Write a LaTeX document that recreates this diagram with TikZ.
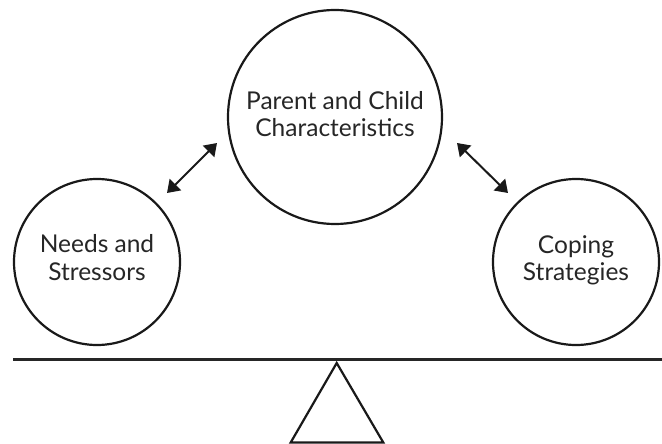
\documentclass[tikz,border=0pt]{standalone}
\usepackage{fontspec}
\setmainfont{Lato}
\usetikzlibrary{arrows.meta}
\begin{document}
\begin{tikzpicture}[x=1pt,y=-1pt,
  factor/.style={circle,draw=black!90,line width=2.2pt,inner sep=0pt},
  caption/.style={align=center,inner sep=0pt,text=black!85,
    font=\fontsize{24.5}{27.4}\selectfont},
  link/.style={line width=2pt,draw=black!90,
    {Triangle[length=12pt,width=16pt]}-{Triangle[length=12pt,width=16pt]}}]
  \useasboundingbox (0,0) rectangle (662,444);
  % the three factors
  \node[factor,minimum size=214pt] (pc) at (335,117) {};
  \node[factor,minimum size=166pt] (ns) at (97,262) {};
  \node[factor,minimum size=166pt] (cs) at (576,262) {};
  \node[caption] (pc-text) at ([yshift=3pt]pc.center) {Parent and Child\\Characteristics};
  \node[caption] (ns-text) at ([yshift=4.5pt]ns.center) {Needs and\\Stressors};
  \node[caption] (cs-text) at ([yshift=1.8pt]cs.center) {Coping\\Strategies};
  % two-way influences
  \coordinate (l1) at (167,193);
  \coordinate (l2) at (217,143);
  \coordinate (r1) at (457,143);
  \coordinate (r2) at (508,193);
  \draw[link] (l1) -- (l2);
  \draw[link] (r1) -- (r2);
  % balance beam and fulcrum
  \coordinate (beamL) at (13,359);
  \coordinate (beamR) at (662,359);
  \draw[line width=3pt,black!85] (beamL) -- (beamR);
  \draw[line width=2.2pt,black!90,line join=miter]
    (336.7,363) -- (383.3,442.5) -- (290.7,442.5) -- cycle;
\end{tikzpicture}
\end{document}
